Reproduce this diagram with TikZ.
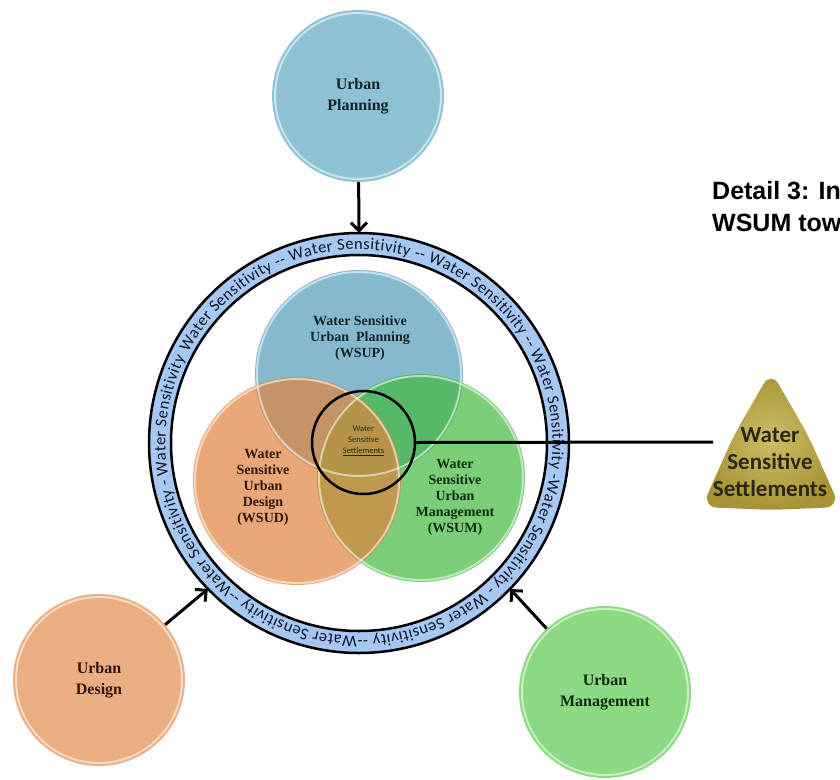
\documentclass[tikz,border=0pt]{standalone}
\usepackage{fontspec}
\setmainfont{Liberation Serif}
\newfontfamily\calfont{Carlito}
\newfontfamily\arialfont{Liberation Sans}
\usetikzlibrary{arrows.meta,decorations.text}

% palette
\definecolor{upblue}{HTML}{8DC1D4}
\definecolor{udorange}{HTML}{EAAE82}
\definecolor{umgreen}{HTML}{8DD882}
\definecolor{vblue}{HTML}{84B9CE}
\definecolor{vorange}{HTML}{E0833E}
\definecolor{vgreen}{HTML}{44BA3E}
\definecolor{ringblue}{HTML}{A5C7F0}
\definecolor{ringtext}{HTML}{0B1530}
\definecolor{bluetext}{HTML}{15232B}
\definecolor{browntext}{HTML}{2E1608}
\definecolor{greentext}{HTML}{0D2A0D}
\definecolor{olivetext}{HTML}{2A2810}
\definecolor{goldin}{HTML}{CCBD66}
\definecolor{goldout}{HTML}{A69536}

\newcommand{\ringfont}{\calfont\fontsize{16.5}{16.5}\selectfont}

\begin{document}
\begin{tikzpicture}[x=1pt,y=-1pt,
  bigcircle/.style={circle, minimum size=172pt, inner sep=0pt, align=center,
    font=\fontsize{16}{21}\selectfont\bfseries},
  rim/.style={draw=white, draw opacity=0.55, line width=2pt},
  vennlabel/.style={align=center, inner sep=0pt,
    font=\fontsize{14}{16}\selectfont\bfseries},
  arr/.style={line width=3pt, -{Straight Barb[length=8pt,width=16pt,line width=3pt]}},
  ringline/.style={line width=2.5pt, draw=black}]

\useasboundingbox (0,0) rectangle (840,779);
\clip (0,0) rectangle (840,779);
\fill[white] (0,0) rectangle (840,779);

% the three source disciplines
\node[bigcircle, fill=upblue, text=bluetext] (up) at (358,96) {Urban\\Planning};
\node[bigcircle, fill=udorange, text=browntext] (ud) at (99,680) {Urban\\Design};
\node[bigcircle, fill=umgreen, text=greentext] (um) at (605,692) {Urban\\Management};
\draw[rim] (358,96) circle[radius=83pt];
\draw[rim] (99,680) circle[radius=83pt];
\draw[rim] (605,692) circle[radius=83pt];

% the water sensitivity ring
\coordinate (c) at (359,443);
\node[circle, minimum size=420pt, inner sep=0pt] (ring) at (c) {};
\fill[ringblue, even odd rule] (c) circle[radius=210pt] (c) circle[radius=188pt];
\draw[ringline] (c) circle[radius=210pt];
\draw[ringline] (c) circle[radius=188pt];
\path[decorate, decoration={text along path, text align=fit to path,
  text={|\ringfont\color{ringtext}|Water Sensitivity -- Water Sensitivity -- Water Sensitivity -- Water Sensitivity -Water Sensitivity - Water Sensitivity --Water Sensitivity --Water Sensitivity - Water Sensitivity}}]
  ([shift={(152:193.5pt)}]c) arc[start angle=152, end angle=-206, radius=193.5pt];

% inputs into the ring
\draw[arr] (up) -- (ring.north);
\draw[arr] (ud) -- (ring.224);
\draw[arr] (um) -- (ring.316);

% overlapping water sensitive fields
\fill[vblue] (359,374) circle[radius=104pt];
\fill[vgreen, fill opacity=0.7] (421,478) circle[radius=104pt];
\fill[vorange, fill opacity=0.7] (297,481) circle[radius=104pt];
\draw[rim] (359,374) circle[radius=102pt];
\draw[rim] (421,478) circle[radius=102pt];
\draw[rim] (297,481) circle[radius=102pt];

\node[vennlabel, text=bluetext] (wsup) at (360,338)
  {Water Sensitive\\Urban\ \ Planning\\(WSUP)};
\node[vennlabel, text=browntext] (wsud) at (263,487)
  {Water\\Sensitive\\Urban\\Design\\(WSUD)};
\node[vennlabel, text=greentext] (wsum) at (455,497)
  {Water\\Sensitive\\Urban\\Management\\(WSUM)};

% settlements at the intersection
\node[circle, draw=black, line width=2.5pt, minimum size=103pt, inner sep=0pt] (cc) at (363.5,442.5) {};
\node[align=center, inner sep=0pt, text=olivetext,
  font=\calfont\fontsize{8.5}{11}\selectfont] (cclabel) at (363.5,441)
  {Water\\Sensitive\\\underline{Settlements}};

% outcome
\coordinate (triL) at (713,442);
\shade[inner color=goldin, outer color=goldout, rounded corners=15pt]
  (771,371) -- (808.5,436) -- (840,507) -- (771,510) -- (702,507) -- (733.5,436) -- cycle;
\node[align=center, inner sep=0pt, text=olivetext,
  font=\calfont\bfseries\fontsize{23}{27}\selectfont] (wss) at (770,462)
  {Water\\Sensitive\\Settlements};
\draw[line width=3pt] (cc.east) -- (triL);

% heading
\node[anchor=base west, inner sep=0pt, font=\arialfont\bfseries\fontsize{25}{30}\selectfont]
  (head1) at (712,199) {Detail 3: In};
\node[anchor=base west, inner sep=0pt, font=\arialfont\bfseries\fontsize{25}{30}\selectfont]
  (head2) at (712,231) {WSUM tow};
\end{tikzpicture}
\end{document}
